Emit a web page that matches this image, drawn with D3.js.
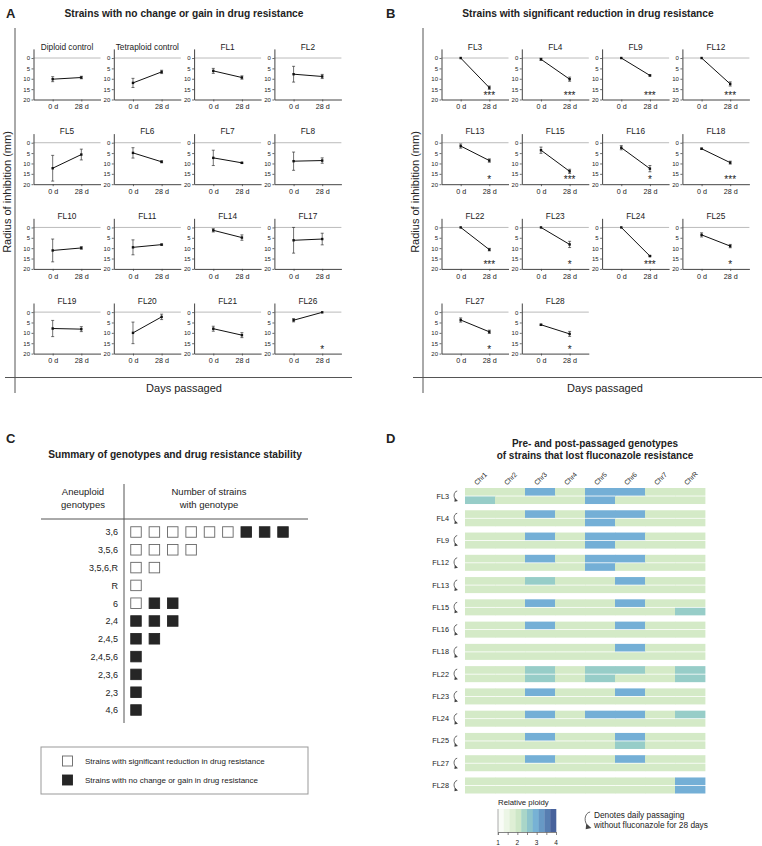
<!DOCTYPE html>
<html><head><meta charset="utf-8">
<script src="https://cdn.jsdelivr.net/npm/d3@7"></script>
<style>
body{margin:0;background:#fff}
text{font-family:"Liberation Sans",Arial,Helvetica,sans-serif;fill:#222}
</style>
</head><body>
<svg id="c" width="762" height="846" xmlns="http://www.w3.org/2000/svg"></svg>
<script>
// ---------- Shared ----------
const days = ["0 d", "28 d"];
const yTicks = [0, 5, 10, 15, 20];

// ---------- Panel A: no change or gain ----------
const aStrains = ["Diploid control","Tetraploid control","FL1","FL2","FL5","FL6","FL7","FL8","FL10","FL11","FL14","FL17","FL19","FL20","FL21","FL26"];
const aDay0  = [10.2, 12.0, 6.2, 7.8, 12.3, 4.9, 7.3, 8.9, 11.1, 9.6, 1.4, 6.2, 7.9, 10.0, 8.0, 3.9];
const aErr0  = [1.2, 2.2, 1.2, 3.8, 6.2, 2.5, 3.7, 4.4, 5.5, 3.6, 0.8, 6.2, 3.9, 5.2, 1.2, 0.8];
const aDay28 = [9.4, 6.7, 9.4, 8.9, 5.7, 9.2, 9.7, 8.6, 9.9, 8.3, 4.9, 5.6, 8.2, 2.3, 11.1, 0.1];
const aErr28 = [0.6, 0.8, 0.8, 1.0, 2.6, 0.5, 0.3, 1.3, 0.6, 0.3, 1.3, 2.8, 1.2, 1.3, 1.2, 0.0];
const aSig   = ["","","","","","","","","","","","","","","","*"];

// ---------- Panel B: significant reduction ----------
const bStrains = ["FL3","FL4","FL9","FL12","FL13","FL15","FL16","FL18","FL22","FL23","FL24","FL25","FL27","FL28"];
const bDay0  = [0, 0.6, 0, 0, 1.6, 3.6, 2.4, 2.9, 0, 0, 0, 3.6, 3.8, 6.1];
const bErr0  = [0, 0.5, 0, 0, 1.0, 1.5, 1.0, 0.3, 0, 0, 0, 1.0, 1.0, 0.3];
const bDay28 = [14.3, 10.2, 8.4, 12.5, 8.6, 13.8, 12.5, 9.6, 10.7, 8.2, 13.8, 9.0, 9.5, 10.5];
const bErr28 = [0.8, 1.0, 0.3, 1.0, 0.8, 1.0, 1.5, 0.7, 0.6, 1.5, 0.3, 0.8, 0.8, 1.2];
const bSig   = ["***","***","***","***","*","***","*","***","***","*","***","*","*","*"];

// ---------- Panel C: genotype summary ----------
const genotypes    = ["3,6","3,5,6","3,5,6,R","R","6","2,4","2,4,5","2,4,5,6","2,3,6","2,3","4,6"];
const reducedCount = [6, 4, 2, 1, 1, 0, 0, 0, 0, 0, 0];
const stableCount  = [3, 0, 0, 0, 2, 3, 2, 1, 1, 1, 1];

// ---------- Panel D: ploidy heatmap ----------
const chromosomes = ["Chr1","Chr2","Chr3","Chr4","Chr5","Chr6","Chr7","ChrR"];
const dStrains = ["FL3","FL4","FL9","FL12","FL13","FL15","FL16","FL18","FL22","FL23","FL24","FL25","FL27","FL28"];
const prePloidy = [
  [2,2,3,2,3,3,2,2],
  [2,2,3,2,3,3,2,2],
  [2,2,3,2,3,3,2,2],
  [2,2,3,2,3,3,2,2],
  [2,2,2.5,2,2,3,2,2],
  [2,2,3,2,2,3,2,2],
  [2,2,3,2,2,3,2,2],
  [2,2,2,2,2,3,2,2],
  [2,2,2.5,2,2.5,2.5,2,2.5],
  [2,2,3,2,2,3,2,2],
  [2,2,3,2,3,3,2,2.5],
  [2,2,3,2,2,3,2,2],
  [2,2,3,2,2,3,2,2],
  [2,2,2,2,2,2,2,3]
];
const postPloidy = [
  [2.5,2,2,2,3,2,2,2],
  [2,2,2,2,3,2,2,2],
  [2,2,2,2,3,2,2,2],
  [2,2,2,2,3,2,2,2],
  [2,2,2,2,2,2,2,2],
  [2,2,2,2,2,2,2,2.5],
  [2,2,2,2,2,2,2,2],
  [2,2,2,2,2,2,2,2],
  [2,2,2.5,2,2.5,2,2,2.5],
  [2,2,2,2,2,2,2,2],
  [2,2,2,2,2,2,2,2],
  [2,2,2,2,2,2.5,2,2],
  [2,2,2,2,2,2,2,2],
  [2,2,2,2,2,2,2,3]
];
const ploidyStops  = [1, 2, 2.5, 3, 4];
const ploidyColors = ["#ffffff", "#d4eac7", "#97cdc8", "#74afd6", "#3f5592"];
const ploidyLegendTicks = [1, 1.5, 2, 2.5, 3, 3.5, 4];
const ploidyLegendLabels = [1, 2, 3, 4];

// =====================================================
const svg = d3.select("#c");
const AX = "#444";

function styleAxis(sel, fs) {
  sel.selectAll(".domain").attr("stroke", AX).attr("stroke-width", 1);
  sel.selectAll(".tick line").attr("stroke", AX).attr("stroke-width", 0.8);
  sel.selectAll(".tick text").attr("font-size", fs).attr("fill", "#333")
     .attr("font-family", '"Liberation Sans",Arial,sans-serif');
}

function mini(g, ax, zy, name, v0, e0, v28, e28, sig) {
  const w = 67;
  const y = d3.scaleLinear().domain([-4.4, 20]).range([zy - 9.1, zy + 41.5]);
  const x = d3.scalePoint().domain(days).range([ax, ax + w]).padding(0.67);
  // zero reference line
  g.append("line").attr("x1", ax).attr("x2", ax + w).attr("y1", y(0)).attr("y2", y(0))
    .attr("stroke", "#aaa").attr("stroke-width", 0.8);
  const ya = g.append("g").attr("transform", `translate(${ax},0)`)
    .call(d3.axisLeft(y).tickValues(yTicks).tickSize(2).tickSizeOuter(0).tickPadding(1.5));
  styleAxis(ya, 6);
  const xa = g.append("g").attr("transform", `translate(0,${y(20)})`)
    .call(d3.axisBottom(x).tickSize(2).tickSizeOuter(0).tickPadding(2.5));
  styleAxis(xa, 7.2);
  g.append("text").attr("x", ax + w / 2).attr("y", zy - 8.5).attr("text-anchor", "middle")
    .attr("font-size", 8.3).text(name);
  const pts = [{d: days[0], v: v0, e: e0}, {d: days[1], v: v28, e: e28}];
  g.append("path").datum(pts)
    .attr("d", d3.line().x(p => x(p.d)).y(p => y(p.v)))
    .attr("stroke", "#111").attr("stroke-width", 1).attr("fill", "none");
  pts.forEach(p => {
    if (p.e > 0) {
      g.append("line").attr("x1", x(p.d)).attr("x2", x(p.d)).attr("y1", y(p.v - p.e)).attr("y2", y(p.v + p.e))
        .attr("stroke", "#333").attr("stroke-width", 0.7);
      [p.v - p.e, p.v + p.e].forEach(b => g.append("line").attr("x1", x(p.d) - 1.5).attr("x2", x(p.d) + 1.5)
        .attr("y1", y(b)).attr("y2", y(b)).attr("stroke", "#333").attr("stroke-width", 0.7));
    }
    g.append("rect").attr("x", x(p.d) - 1.2).attr("y", y(p.v) - 1.2).attr("width", 2.4).attr("height", 2.4).attr("fill", "#111");
  });
  if (sig) {
    g.append("text").attr("x", x(days[1])).attr("y", y(19.6)).attr("text-anchor", "middle")
      .attr("font-size", 10).text(sig);
  }
}

function panelFrame(letter, lx, title, tx, vx, hx1, hx2, labelX, dayX) {
  svg.append("text").attr("x", lx).attr("y", 18).attr("font-size", 13).attr("font-weight", "bold").text(letter);
  svg.append("text").attr("x", tx).attr("y", 17).attr("text-anchor", "middle").attr("font-size", 10.2)
    .attr("font-weight", "bold").text(title);
  svg.append("line").attr("x1", vx).attr("x2", vx).attr("y1", 28).attr("y2", 393).attr("stroke", "#555");
  svg.append("line").attr("x1", hx1).attr("x2", hx2).attr("y1", 377.5).attr("y2", 377.5).attr("stroke", "#555");
  svg.append("text").attr("transform", `translate(${labelX},192) rotate(-90)`).attr("text-anchor", "middle")
    .attr("font-size", 11).text("Radius of inhibition (mm)");
  svg.append("text").attr("x", dayX).attr("y", 392).attr("text-anchor", "middle").attr("font-size", 11).text("Days passaged");
}

// Panel A
panelFrame("A", 6, "Strains with no change or gain in drug resistance", 184, 15, 5, 352, 11, 184);
const gA = svg.append("g");
aStrains.forEach((s, k) => {
  const r = Math.floor(k / 4), c = k % 4;
  mini(gA, 33.5 + c * 80.3, 58 + r * 84.7, s, aDay0[k], aErr0[k], aDay28[k], aErr28[k], aSig[k]);
});

// Panel B
panelFrame("B", 386, "Strains with significant reduction in drug resistance", 588, 423, 413, 762, 419, 605);
const gB = svg.append("g");
bStrains.forEach((s, k) => {
  const r = Math.floor(k / 4), c = k % 4;
  mini(gB, 441.5 + c * 80.3, 58 + r * 84.7, s, bDay0[k], bErr0[k], bDay28[k], bErr28[k], bSig[k]);
});

// ---------- Panel C ----------
svg.append("text").attr("x", 6).attr("y", 443).attr("font-size", 13).attr("font-weight", "bold").text("C");
svg.append("text").attr("x", 175).attr("y", 458).attr("text-anchor", "middle").attr("font-size", 10.2)
  .attr("font-weight", "bold").text("Summary of genotypes and drug resistance stability");
svg.append("line").attr("x1", 124).attr("x2", 124).attr("y1", 484).attr("y2", 723).attr("stroke", "#555");
svg.append("line").attr("x1", 41).attr("x2", 308).attr("y1", 519).attr("y2", 519).attr("stroke", "#555");
[["Aneuploid", 83, 495], ["genotypes", 83, 508], ["Number of strains", 209, 495], ["with genotype", 209, 508]]
  .forEach(([t, x, y]) => svg.append("text").attr("x", x).attr("y", y).attr("text-anchor", "middle").attr("font-size", 9.5).text(t));
const cy = d3.scalePoint().domain(genotypes).range([532, 710]);
const cx = d3.scaleLinear().domain([0, 8]).range([136, 283]);
const sq = 10.5;
genotypes.forEach((gname, i) => {
  svg.append("text").attr("x", 118).attr("y", cy(gname) + 3.3).attr("text-anchor", "end").attr("font-size", 9).text(gname);
  const cells = [];
  for (let j = 0; j < reducedCount[i]; j++) cells.push("w");
  for (let j = 0; j < stableCount[i]; j++) cells.push("b");
  cells.forEach((t, j) => {
    svg.append("rect").attr("x", cx(j) - sq / 2).attr("y", cy(gname) - sq / 2).attr("width", sq).attr("height", sq)
      .attr("fill", t === "w" ? "#fff" : "#262626").attr("stroke", t === "w" ? "#666" : "#262626").attr("stroke-width", 0.9);
  });
});
svg.append("rect").attr("x", 41).attr("y", 747).attr("width", 267).attr("height", 47).attr("fill", "none").attr("stroke", "#999");
[["w", "Strains with significant reduction in drug resistance", 761], ["b", "Strains with no change or gain in drug resistance", 780]]
  .forEach(([t, label, y]) => {
    svg.append("rect").attr("x", 62.5).attr("y", y - 5).attr("width", 10).attr("height", 10)
      .attr("fill", t === "w" ? "#fff" : "#262626").attr("stroke", t === "w" ? "#666" : "#262626").attr("stroke-width", 0.9);
    svg.append("text").attr("x", 85).attr("y", y + 3).attr("font-size", 8).text(label);
  });

// ---------- Panel D ----------
svg.append("text").attr("x", 386).attr("y", 443).attr("font-size", 13).attr("font-weight", "bold").text("D");
svg.append("text").attr("x", 595).attr("y", 447).attr("text-anchor", "middle").attr("font-size", 10)
  .attr("font-weight", "bold").text("Pre- and post-passaged genotypes");
svg.append("text").attr("x", 595).attr("y", 459).attr("text-anchor", "middle").attr("font-size", 10)
  .attr("font-weight", "bold").text("of strains that lost fluconazole resistance");

const color = d3.scaleLinear().domain(ploidyStops).range(ploidyColors);
const hx = d3.scaleBand().domain(chromosomes).range([465, 705]);
const hy = d3.scaleBand().domain(dStrains).range([488, 793.5]).paddingInner(0.28);
chromosomes.forEach(c => {
  svg.append("text").attr("transform", `translate(${hx(c) + hx.bandwidth() / 2 - 3},485.5) rotate(-45)`)
    .attr("font-size", 6.8).attr("fill", "#333").text(c);
});
function curl(x, yc, s) {
  svg.append("path")
    .attr("d", `M${x + 3.2 * s},${yc - 5 * s} C${x - 0.5 * s},${yc - 4.5 * s} ${x - 1.2 * s},${yc + 2 * s} ${x + 2.6 * s},${yc + 4.2 * s}`)
    .attr("fill", "none").attr("stroke", "#444").attr("stroke-width", 0.8);
  svg.append("path")
    .attr("d", `M${x + 0.8 * s},${yc + 2.3 * s} L${x + 4 * s},${yc + 5 * s} L${x + 0.4 * s},${yc + 5.8 * s} Z`)
    .attr("fill", "#444");
}
const halfH = hy.bandwidth() / 2;
dStrains.forEach((s, i) => {
  const y0 = hy(s);
  const yc = y0 + hy.bandwidth() / 2;
  svg.append("text").attr("x", 449).attr("y", yc + 2.5).attr("text-anchor", "end").attr("font-size", 7.3).attr("fill", "#333").text(s);
  curl(454, yc, 1);
  chromosomes.forEach((c, j) => {
    svg.append("rect").attr("x", hx(c)).attr("y", y0).attr("width", hx.bandwidth() + 0.4).attr("height", halfH - 0.4)
      .attr("fill", color(prePloidy[i][j]));
    svg.append("rect").attr("x", hx(c)).attr("y", y0 + halfH + 0.4).attr("width", hx.bandwidth() + 0.4).attr("height", halfH - 0.4)
      .attr("fill", color(postPloidy[i][j]));
  });
});

// ploidy legend
svg.append("text").attr("x", 498).attr("y", 805).attr("font-size", 7.8).attr("fill", "#333").text("Relative ploidy");
const lx = d3.scaleLinear().domain([1, 4]).range([498, 556]);
const nb = 10;
d3.range(nb).forEach(k => {
  const v0 = 1 + 3 * k / nb, v1 = 1 + 3 * (k + 1) / nb;
  svg.append("rect").attr("x", lx(v0)).attr("y", 809).attr("width", lx(v1) - lx(v0) + 0.3).attr("height", 23)
    .attr("fill", color((v0 + v1) / 2));
});
svg.append("line").attr("x1", lx(1)).attr("x2", lx(1)).attr("y1", 809).attr("y2", 835).attr("stroke", "#aaa");
const la = svg.append("g").attr("transform", "translate(0,832)")
  .call(d3.axisBottom(lx).tickValues(ploidyLegendTicks).tickSize(3).tickSizeOuter(0).tickFormat(""));
la.selectAll(".domain").attr("stroke", "#666").attr("stroke-width", 0.8);
la.selectAll(".tick line").attr("stroke", "#666").attr("stroke-width", 0.8);
ploidyLegendLabels.forEach(v => svg.append("text").attr("x", lx(v)).attr("y", 845).attr("text-anchor", "middle")
  .attr("font-size", 6.5).attr("fill", "#333").text(v));
curl(585, 820, 1.6);
svg.append("text").attr("x", 594).attr("y", 818).attr("font-size", 8.3).attr("fill", "#333").text("Denotes daily passaging");
svg.append("text").attr("x", 594).attr("y", 828).attr("font-size", 8.3).attr("fill", "#333").text("without fluconazole for 28 days");
</script>
</body></html>
